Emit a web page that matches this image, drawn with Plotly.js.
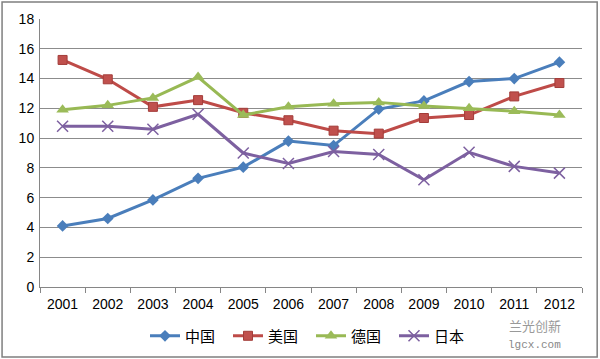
<!DOCTYPE html>
<html><head><meta charset="utf-8">
<script src="https://cdn.plot.ly/plotly-3.0.1.min.js"></script>
<style>html,body{margin:0;padding:0;background:#fff}#c{width:600px;height:359px}</style>
</head><body><div id="c"></div>
<script>
const years = ['2001','2002','2003','2004','2005','2006','2007','2008','2009','2010','2011','2012'];
const china   = [4.1, 4.6, 5.85, 7.3, 8.05, 9.8, 9.5, 11.95, 12.5, 13.8, 14.0, 15.1];
const usa     = [15.25, 13.95, 12.1, 12.55, 11.7, 11.2, 10.5, 10.3, 11.35, 11.55, 12.8, 13.7];
const germany = [11.9, 12.2, 12.7, 14.1, 11.55, 12.1, 12.3, 12.4, 12.15, 12.0, 11.8, 11.55];
const japan   = [10.8, 10.8, 10.6, 11.6, 9.0, 8.3, 9.1, 8.9, 7.2, 9.05, 8.1, 7.65];
const names = ['中国','美国','德国','日本'];
const yTicks = [0,2,4,6,8,10,12,14,16,18];

const traces = [
  {x: years, y: china, name: names[0], type:'scatter', mode:'lines+markers',
   line:{color:'#4A7EBB', width:3}, marker:{symbol:'diamond', size:9, color:'#4A7EBB'}},
  {x: years, y: usa, name: names[1], type:'scatter', mode:'lines+markers',
   line:{color:'#BE4B48', width:3}, marker:{symbol:'square', size:9, color:'#C0504D', line:{color:'#A33C39', width:1}}},
  {x: years, y: germany, name: names[2], type:'scatter', mode:'lines+markers',
   line:{color:'#98B954', width:3}, marker:{symbol:'triangle-up', size:11, color:'#9BBB59'}},
  {x: years, y: japan, name: names[3], type:'scatter', mode:'lines+markers',
   line:{color:'#7D60A0', width:3}, marker:{symbol:'x-thin-open', size:11, color:'#7D60A0', line:{color:'#7D60A0', width:1.5}}}
];

const layout = {
  width:600, height:359,
  margin:{l:40, r:18, t:19, b:72, autoexpand:false},
  paper_bgcolor:'#fff', plot_bgcolor:'#fff',
  font:{family:'Liberation Sans, Arial, sans-serif', size:13, color:'#000'},
  showlegend:true,
  legend:{orientation:'h', x:0.5, xanchor:'center', y:-0.183, yanchor:'middle',
          font:{family:'Noto Sans CJK SC, sans-serif', size:15, color:'#000'},
          itemwidth:30, entrywidth:38, entrywidthmode:'pixels'},
  xaxis:{type:'category', range:[-0.5, 11.5], showgrid:false, showline:true, linecolor:'#868686', linewidth:1,
         ticks:'outside', tickson:'boundaries', ticklen:5, tickcolor:'#868686',
         tickfont:{size:14}, ticklabelstandoff:4, fixedrange:true},
  yaxis:{range:[0,18], tickvals:yTicks, ticktext:yTicks.map(String), showgrid:true, gridcolor:'#8C8C8C', gridwidth:1,
         showline:true, linecolor:'#868686', linewidth:1, zeroline:false, ticks:'', tickfont:{size:14}, ticklabelstandoff:2},
  shapes:[{type:'rect', xref:'paper', yref:'paper', x0:-0.070, x1:1.028, y0:-0.261, y1:1.063,
           line:{color:'#7F7F7F', width:1.5}, fillcolor:'rgba(0,0,0,0)'}],
  annotations:[
    {text:'兰光创新', xref:'paper', yref:'paper', x:0.913, y:-0.142, xanchor:'center', yanchor:'middle', showarrow:false,
     font:{family:'Noto Sans CJK SC, sans-serif', size:13, color:'#999'}},
    {text:'lgcx.com', xref:'paper', yref:'paper', x:0.913, y:-0.216, xanchor:'center', yanchor:'middle', showarrow:false,
     font:{family:'Liberation Mono, DejaVu Sans Mono, monospace', size:11, color:'#888'}}
  ]
};
Plotly.newPlot('c', traces, layout, {displayModeBar:false, staticPlot:true});
</script></body></html>
